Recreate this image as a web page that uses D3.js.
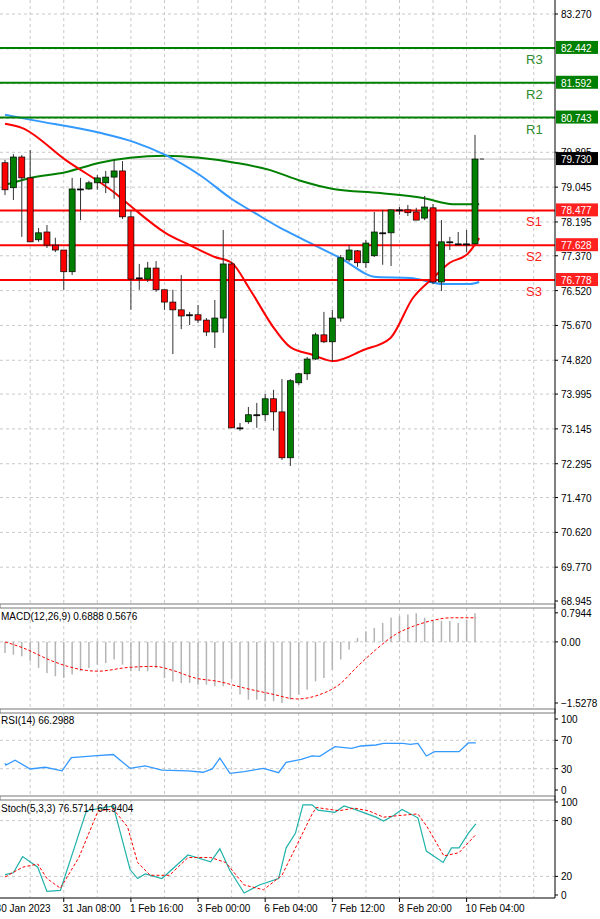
<!DOCTYPE html>
<html>
<head>
<meta charset="utf-8">
<script src="https://cdn.jsdelivr.net/npm/d3@7"></script>
<style>
  body { margin: 0; background: #fff; }
  svg text { font-family: "Liberation Sans", Arial, sans-serif; font-size: 10px; }
</style>
</head>
<body>
<div id="chart"></div>
<script>
// H4 candles, index 0..56
const opens  = [79.64,79.03,79.78,79.27,77.76,77.95,77.63,77.51,76.98,79.00,79.00,79.15,79.15,79.29,79.44,78.32,76.83,76.80,77.07,76.54,76.24,76.05,75.93,75.93,75.80,75.51,75.85,77.17,73.17,73.32,73.49,73.49,73.88,73.56,72.44,74.27,74.49,74.85,75.44,75.27,75.85,77.27,77.49,77.20,77.37,77.93,77.93,78.49,78.49,78.44,78.29,78.54,76.73,77.71,77.66,77.66,77.66];
const highs  = [79.71,79.85,79.83,79.95,78.05,78.12,77.81,77.51,79.27,79.27,79.20,79.34,79.44,79.71,79.68,78.46,77.17,77.22,77.24,76.54,76.54,76.90,76.00,76.17,75.85,76.29,78.00,77.22,73.29,73.68,73.78,74.00,74.10,74.36,74.36,74.51,74.90,75.49,76.00,76.05,77.39,77.63,77.51,77.76,78.44,78.49,78.49,78.56,78.61,78.54,78.83,78.63,78.24,77.83,77.95,78.00,80.32];
const lows   = [78.85,78.73,77.83,77.71,77.71,77.56,77.46,76.54,76.90,78.24,78.98,78.98,78.90,78.76,78.27,76.05,76.54,76.73,76.49,76.05,74.97,75.58,75.68,75.73,75.41,75.12,75.49,73.17,73.10,73.27,73.17,73.34,73.10,72.39,72.24,74.22,74.34,74.83,75.24,74.80,75.76,77.22,77.10,77.07,77.34,77.15,77.12,78.37,78.34,78.24,78.24,76.68,76.51,77.51,77.63,77.46,77.66];
const closes = [78.98,79.78,79.27,77.71,77.93,77.63,77.51,76.98,79.00,79.00,79.15,79.27,79.29,79.44,78.32,76.80,76.83,77.07,76.54,76.24,76.05,75.90,75.93,75.80,75.51,75.85,77.17,73.17,73.17,73.49,73.49,73.88,73.56,72.44,74.32,74.49,74.85,75.44,75.27,75.85,77.32,77.51,77.20,77.68,77.95,77.93,78.49,78.49,78.42,78.24,78.56,76.73,77.71,77.71,77.66,77.66,79.73];

// moving averages: [bar index, price]
const maRed   = [[0,80.59],[2,80.49],[7.2,79.71],[13.1,78.90],[15.1,78.56],[19.1,77.93],[22,77.63],[25,77.34],[27,77.20],[29.2,76.54],[32.2,75.56],[34,75.14],[36.7,74.95],[39.1,74.80],[42.7,75.07],[45.9,75.36],[48.6,76.34],[51,76.83],[53,77.20],[55.1,77.41],[56.5,77.80]];
const maBlue  = [[0,80.81],[3.3,80.68],[11.3,80.37],[15.3,80.15],[19.1,79.83],[23.2,79.34],[27.2,78.73],[29.8,78.41],[32.8,78.05],[35.2,77.80],[39.9,77.32],[44.3,76.85],[48.3,76.83],[52.2,76.68],[55.4,76.68],[56.5,76.73]];
const maGreen = [[0,79.10],[3,79.27],[7.2,79.41],[11.3,79.64],[14.9,79.76],[19.1,79.81],[23.2,79.76],[27.4,79.64],[31.6,79.46],[35.2,79.20],[39.1,79.00],[44.7,78.90],[49.8,78.78],[53.4,78.63],[56.5,78.63]];

const levelNames  = ["R3","R2","R1","S1","S2","S3"];
const levelValues = [82.442,81.592,80.743,78.477,77.628,76.778];
const lastPrice = 79.730;
const priceTicks = [83.270,79.895,79.045,78.195,77.370,76.520,75.670,74.820,73.995,73.145,72.295,71.470,70.620,69.770,68.945];

const macdHist = [-0.30,-0.35,-0.39,-0.53,-0.71,-0.85,-0.94,-0.99,-0.89,-0.80,-0.71,-0.62,-0.58,-0.48,-0.62,-0.80,-0.80,-0.80,-0.71,-0.99,-1.08,-1.12,-1.12,-1.17,-1.17,-1.21,-1.21,-1.03,-1.44,-1.58,-1.58,-1.62,-1.62,-1.67,-1.58,-1.44,-1.31,-1.08,-0.99,-0.76,-0.48,-0.21,0.11,0.29,0.38,0.52,0.66,0.70,0.75,0.78,0.66,0.57,0.57,0.57,0.52,0.61,0.78];
const macdSignal = [[0,0.0],[2.1,-0.16],[5.7,-0.53],[7.5,-0.67],[9.7,-0.78],[11.1,-0.80],[14.6,-0.70],[17.8,-0.67],[20,-0.78],[22.7,-0.99],[25.4,-1.08],[28.5,-1.26],[31.7,-1.42],[34.8,-1.56],[37.5,-1.44],[39.8,-1.17],[42,-0.67],[44.2,-0.21],[46.5,0.20],[48.7,0.43],[51,0.59],[53.2,0.66],[56.1,0.66]];
const macdTicks = [0.7944,0.00,-1.5278];

const rsi = [[0,37.6],[0.1,35],[1.2,42],[3,29.6],[4.8,32],[6.8,27],[7.9,45.5],[10.6,48],[12.9,50],[14.9,30.5],[16.7,34],[18.7,28],[21.8,27],[23.6,25],[24.7,29.6],[25.6,45],[26.8,23.5],[28.5,26],[30.8,30.5],[32.6,24.4],[33.5,39],[35.3,43],[36.6,48],[37.5,47.4],[39.3,61],[41.3,58.7],[42.4,62],[44.2,63.4],[45.1,65.7],[47.4,65.7],[48.3,64.3],[49.2,65.7],[50.2,47.9],[51.2,54],[54.1,54],[55.2,66.3],[56.1,66.3]];
const rsiTicks = [100,70,30,0];

const stochMain = [[0,21.9],[1,23.9],[2.1,41.3],[3.9,29.9],[5,3.8],[6.6,4.9],[9.7,90.6],[12.9,95.8],[14.9,27.4],[15.8,17.7],[16.7,22.6],[18.7,17.7],[21.8,43],[24.5,35.7],[25.6,49.7],[26.8,26.4],[28.5,2.1],[30.3,10.8],[32.6,17.7],[33.5,50.7],[34.6,66.3],[35.5,96.9],[36.6,96.9],[37.3,91.3],[39.3,88.9],[40.4,95.8],[41.6,92.4],[44.2,83.7],[45.1,79.5],[46.3,85.4],[47.3,92],[49.2,83],[50.2,47.2],[52.2,35],[53.2,50.7],[54.1,50.7],[55.2,66.3],[56.1,76.6]];
const stochSignal = [[0,19.4],[2.1,29.9],[3.9,33.3],[5,17.7],[6.6,7.3],[8.8,40.3],[11.1,90.6],[12.9,92.4],[14.6,73.3],[15.8,35],[17.3,21.2],[19.6,21.2],[21.8,40.3],[24.5,40.3],[26.3,35],[28.5,10.8],[30.8,5.6],[33,21.2],[34.8,54.2],[36.6,87.2],[37.1,94.1],[39.8,90.6],[41.6,93.4],[43.3,90.6],[45.1,83.7],[46.9,85.4],[49.2,87.2],[50.3,73.3],[52.3,42],[54.1,45.5],[56.1,64.9]];
const stochTicks = [100,80,20,0];

const timeTickBars = [-1,7,15,23,31,39,47,55];
const timeTickLabels = ["30 Jan 2023","31 Jan 08:00","1 Feb 16:00","3 Feb 00:00","6 Feb 04:00","7 Feb 12:00","8 Feb 20:00","10 Feb 04:00"];

const W = 600, H = 919, plotRight = 555;
const svg = d3.select("#chart").append("svg").attr("width", W).attr("height", H);

const x = d3.scaleLinear().domain([0, 56]).range([5, 475]);
const yP = d3.scaleLinear().domain([68.945, 83.270]).range([601, 14]);
const yM = d3.scaleLinear().domain([-1.67, 0.79]).range([703, 613]);
const yR = d3.scaleLinear().domain([0, 100]).range([790, 719]);
const yS = d3.scaleLinear().domain([0, 100]).range([895, 802]);

const grid = "#c8c8c8";
const dash = "3,3";

// vertical grid in every panel
const vBars = d3.range(3, 66, 4);
[[0, 603], [608, 708], [713, 795], [800, 897]].forEach(([t, b]) => {
  svg.append("g").selectAll("line").data(vBars).join("line")
    .attr("x1", d => x(d)).attr("x2", d => x(d)).attr("y1", t).attr("y2", b)
    .attr("stroke", grid).attr("stroke-dasharray", dash);
});

// horizontal price grid
const gridPrices = [83.270,82.42,81.57,80.72,79.895,79.045,78.195,77.370,76.520,75.670,74.820,73.995,73.145,72.295,71.470,70.620,69.770];
svg.append("g").selectAll("line").data(gridPrices).join("line")
  .attr("x1", 0).attr("x2", plotRight).attr("y1", d => yP(d)).attr("y2", d => yP(d))
  .attr("stroke", grid).attr("stroke-dasharray", dash);

// current price line
svg.append("line").attr("x1", 0).attr("x2", plotRight)
  .attr("y1", yP(lastPrice)).attr("y2", yP(lastPrice)).attr("stroke", "#c0c0c0");

// moving averages
const maLine = d3.line().x(d => x(d[0])).y(d => yP(d[1])).curve(d3.curveMonotoneX);
[[maGreen, "#008000"], [maBlue, "#3399ff"], [maRed, "#ff0000"]].forEach(([data, c]) => {
  svg.append("path").datum(data).attr("d", maLine).attr("fill", "none")
    .attr("stroke", c).attr("stroke-width", 2);
});

// pivot levels
levelValues.forEach((v, i) => {
  const isR = levelNames[i][0] === "R";
  const c = isR ? "#008000" : "#ff0000";
  svg.append("line").attr("x1", 0).attr("x2", plotRight).attr("y1", yP(v)).attr("y2", yP(v))
    .attr("stroke", c).attr("stroke-width", 2);
  svg.append("text").attr("x", 526).attr("y", yP(v) + 16).attr("fill", isR ? "#2e8b2e" : "#ff2020")
    .style("font-size", "13px").text(levelNames[i]);
});

// candles
const idx = d3.range(opens.length);
const candles = svg.append("g");
candles.selectAll("line").data(idx).join("line")
  .attr("x1", i => x(i)).attr("x2", i => x(i))
  .attr("y1", i => yP(highs[i])).attr("y2", i => yP(lows[i]))
  .attr("stroke", "#333");
candles.selectAll("rect").data(idx).join("rect")
  .attr("x", i => x(i) - 3).attr("width", 6)
  .attr("y", i => yP(Math.max(opens[i], closes[i])))
  .attr("height", i => Math.max(1, Math.abs(yP(opens[i]) - yP(closes[i]))))
  .attr("fill", i => closes[i] > opens[i] ? "#008000" : closes[i] < opens[i] ? "#ff0000" : "#000")
  .attr("stroke", "#000").attr("stroke-width", 0.7);
svg.append("line").attr("x1", x(56) + 5).attr("x2", x(56) + 9)
  .attr("y1", yP(lastPrice)).attr("y2", yP(lastPrice)).attr("stroke", "#333");

// MACD
svg.append("line").attr("x1", 0).attr("x2", plotRight).attr("y1", yM(0)).attr("y2", yM(0))
  .attr("stroke", grid).attr("stroke-dasharray", dash);
svg.append("g").selectAll("line").data(macdHist).join("line")
  .attr("x1", (d, i) => x(i)).attr("x2", (d, i) => x(i))
  .attr("y1", yM(0)).attr("y2", d => yM(d))
  .attr("stroke", "#b4b4b4").attr("stroke-width", 1.5);
svg.append("path").datum(macdSignal)
  .attr("d", d3.line().x(d => x(d[0])).y(d => yM(d[1])).curve(d3.curveMonotoneX))
  .attr("fill", "none").attr("stroke", "#ff0000").attr("stroke-dasharray", "3,2");

// RSI
[70, 30].forEach(v => svg.append("line").attr("x1", 0).attr("x2", plotRight)
  .attr("y1", yR(v)).attr("y2", yR(v)).attr("stroke", grid).attr("stroke-dasharray", dash));
svg.append("path").datum(rsi)
  .attr("d", d3.line().x(d => x(d[0])).y(d => yR(d[1])))
  .attr("fill", "none").attr("stroke", "#3399ff").attr("stroke-width", 1.3);

// Stochastic
[80, 20].forEach(v => svg.append("line").attr("x1", 0).attr("x2", plotRight)
  .attr("y1", yS(v)).attr("y2", yS(v)).attr("stroke", grid).attr("stroke-dasharray", dash));
svg.append("path").datum(stochMain)
  .attr("d", d3.line().x(d => x(d[0])).y(d => yS(d[1])))
  .attr("fill", "none").attr("stroke", "#20b2aa").attr("stroke-width", 1.2);
svg.append("path").datum(stochSignal)
  .attr("d", d3.line().x(d => x(d[0])).y(d => yS(d[1])))
  .attr("fill", "none").attr("stroke", "#ff0000").attr("stroke-dasharray", "3,2");

// panel separators and frame
[604, 709, 796].forEach(y => {
  svg.append("rect").attr("x", 0).attr("y", y).attr("width", plotRight).attr("height", 4)
    .attr("fill", "#fff").attr("stroke", "#777").attr("stroke-width", 1);
});
svg.append("line").attr("x1", plotRight).attr("x2", plotRight).attr("y1", 0).attr("y2", 898).attr("stroke", "#000");
svg.append("line").attr("x1", 0).attr("x2", plotRight).attr("y1", 898).attr("y2", 898).attr("stroke", "#000");

// indicator titles
const titles = [["MACD(12,26,9) 0.6888 0.5676", 620], ["RSI(14) 66.2988", 724], ["Stoch(5,3,3) 76.5714 64.9404", 812]];
titles.forEach(([t, y]) => svg.append("text").attr("x", 1).attr("y", y).attr("fill", "#000").text(t));

// right axes
const axisText = (vals, sc, fmt) => vals.forEach(v => {
  svg.append("line").attr("x1", plotRight).attr("x2", plotRight + 3).attr("y1", sc(v)).attr("y2", sc(v)).attr("stroke", "#000");
  svg.append("text").attr("x", 561).attr("y", sc(v) + 4).attr("fill", "#000").text(fmt(v));
});
axisText(priceTicks, yP, d3.format(".3f"));
axisText(macdTicks, d => d === -1.5278 ? 703 : yM(d), v => v === 0 ? "0.00" : d3.format(".4f")(v));
axisText(rsiTicks, yR, String);
axisText(stochTicks, yS, String);

// price boxes
const box = (v, fill) => {
  svg.append("rect").attr("x", plotRight + 1).attr("y", yP(v) - 7).attr("width", 42).attr("height", 13).attr("fill", fill);
  svg.append("text").attr("x", 561).attr("y", yP(v) + 4).attr("fill", "#fff").text(d3.format(".3f")(v));
};
levelValues.forEach((v, i) => box(v, levelNames[i][0] === "R" ? "#008000" : "#ff2020"));
box(lastPrice, "#000");

// time axis
timeTickBars.forEach((b, i) => {
  svg.append("line").attr("x1", x(b)).attr("x2", x(b)).attr("y1", 898).attr("y2", 902).attr("stroke", "#000");
  svg.append("text").attr("x", x(b) - 1).attr("y", 912).attr("fill", "#000").text(timeTickLabels[i]);
});
</script>
</body>
</html>
